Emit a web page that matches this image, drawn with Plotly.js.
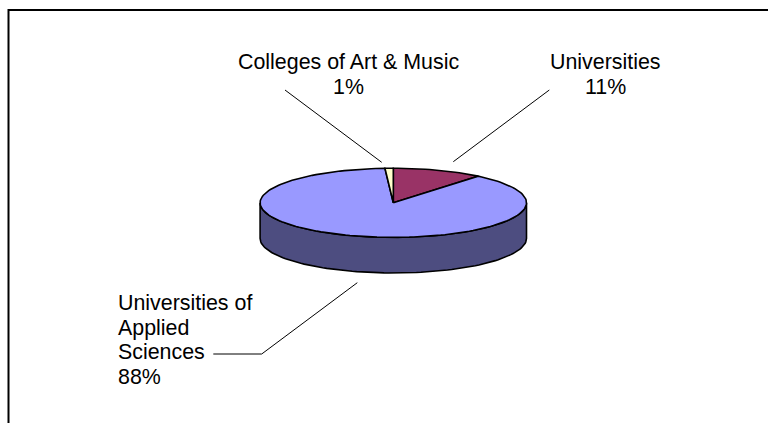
<!DOCTYPE html>
<html><head><meta charset="utf-8">
<script src="https://cdn.plot.ly/plotly-3.0.1.min.js"></script>
<style>html,body{margin:0;padding:0;background:#fff}#c{width:768px;height:423px}</style>
</head><body><div id="c"></div>
<script>
const categories = ["Universities", "Universities of Applied Sciences", "Colleges of Art & Music"];
const shares = [11, 88, 1];
const labelLines = [["Universities","11%"],["Universities of","Applied","Sciences","88%"],["Colleges of Art & Music","1%"]];
const topColors = ["#993366","#9999ff","#ffffcc"];
const wallColor = "#4d4d80";

const cx=393.3, cy=202.8, rx=133.2, ry=34.6, depth=35.6;
const pt=(deg,dy=0)=>[cx+rx*Math.sin(deg*Math.PI/180), cy-ry*Math.cos(deg*Math.PI/180)+dy];
function arc(a,b,dy=0){const n=Math.max(2,Math.ceil(Math.abs(b-a)/2)),o=[];for(let i=0;i<=n;i++)o.push(pt(a+(b-a)*i/n,dy));return o;}
const traces=[];
function poly(pts,fill,w){traces.push({type:"scatter",mode:"lines",x:pts.map(p=>p[0]),y:pts.map(p=>p[1]),fill:"toself",fillcolor:fill,line:{color:"#000",width:w},hoverinfo:"skip",showlegend:false});}
// front wall
poly([...arc(90,270),...arc(270,90,depth),pt(90)],wallColor,1.6);
// slices, clockwise from 12 o'clock
const total=shares.reduce((a,b)=>a+b,0);
let start=0;
shares.forEach((v,i)=>{const end=start+v/total*360;poly([[cx,cy],...arc(start,end),[cx,cy]],topColors[i],1.6);start=end;});
// leader lines
const leaders=[[[549.3,90],[453.3,161.7]],[[213.3,354],[261.7,354],[357.3,282.7]],[[285,90],[381.7,162.3]]];
leaders.forEach(l=>traces.push({type:"scatter",mode:"lines",x:l.map(p=>p[0]),y:l.map(p=>p[1]),line:{color:"#000",width:1},hoverinfo:"skip",showlegend:false}));
// frame
const frame=[[8.5,423],[8.5,10],[768,10]];
traces.push({type:"scatter",mode:"lines",x:frame.map(p=>p[0]),y:frame.map(p=>p[1]),line:{color:"#000",width:2},hoverinfo:"skip",showlegend:false});

const font={family:"Liberation Sans, Arial, sans-serif",size:21.4,color:"#000"};
const annPos=[[605,"center",[62,87]],[118,"left",[303,328,352,377]],[348,"center",[62,87]]];
const annotations=[];
labelLines.forEach((lines,i)=>lines.forEach((t,j)=>annotations.push({x:annPos[i][0],y:annPos[i][2][j],xref:"x",yref:"y",text:t.replace("&","&amp;"),showarrow:false,xanchor:annPos[i][1],yanchor:"middle",font,borderpad:0,borderwidth:0})));

Plotly.newPlot("c",traces,{width:768,height:423,margin:{l:0,r:0,t:0,b:0},paper_bgcolor:"#fff",plot_bgcolor:"#fff",
 xaxis:{range:[0,768],visible:false,fixedrange:true},yaxis:{range:[423,0],visible:false,fixedrange:true},annotations,showlegend:false},{displayModeBar:false,staticPlot:true});
</script></body></html>
